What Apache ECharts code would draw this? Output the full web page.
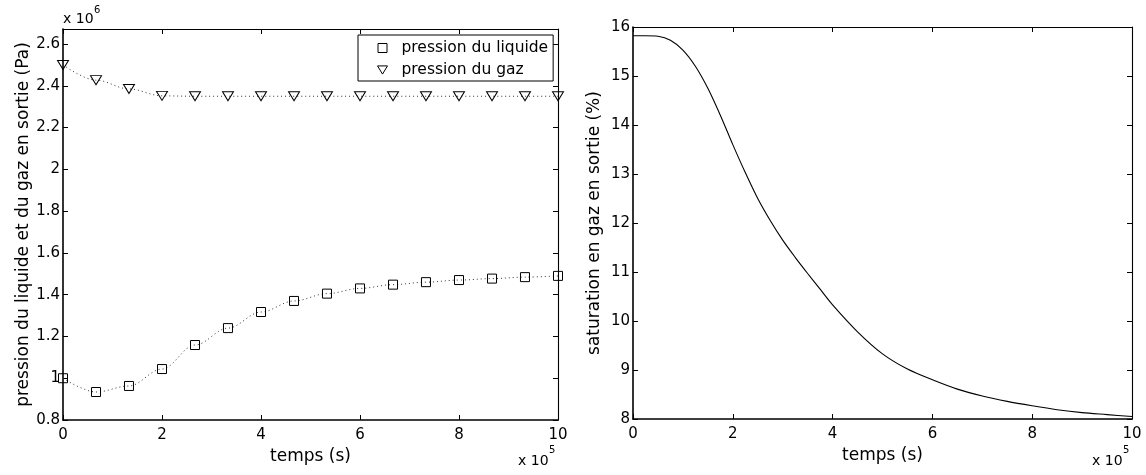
<!DOCTYPE html>
<html><head><meta charset="utf-8">
<script src="https://cdn.jsdelivr.net/npm/echarts@6/dist/echarts.min.js"></script>
<style>html,body{margin:0;padding:0;background:#fff}#c{width:1146px;height:475px}</style>
</head><body><div id="c"></div>
<script>
// Left panel: pressures (x in 1e5 s, y in 1e6 Pa)
const tempsPoints = [0, 0.667, 1.333, 2, 2.667, 3.333, 4, 4.667, 5.333, 6, 6.667, 7.333, 8, 8.667, 9.333, 10];
const pressionLiquide = [1.0, 0.934, 0.963, 1.044, 1.159, 1.24, 1.317, 1.37, 1.405, 1.43, 1.448, 1.46, 1.47, 1.477, 1.484, 1.49];
const pressionGaz = [2.5, 2.427, 2.385, 2.352, 2.35, 2.35, 2.35, 2.35, 2.35, 2.35, 2.35, 2.35, 2.35, 2.35, 2.35, 2.35];
// Right panel: gas saturation (%)
const tempsSat = [0, 0.25, 0.5, 0.75, 1, 1.25, 1.5, 1.75, 2, 2.25, 2.5, 2.75, 3, 3.25, 3.5, 3.75, 4, 4.5, 5, 5.5, 6, 6.5, 7, 7.5, 8, 8.5, 9, 9.5, 10];
const saturation = [15.82, 15.82, 15.81, 15.73, 15.53, 15.2, 14.75, 14.2, 13.6, 13.03, 12.5, 12.05, 11.65, 11.3, 10.97, 10.65, 10.33, 9.78, 9.33, 9.02, 8.8, 8.61, 8.47, 8.36, 8.27, 8.19, 8.13, 8.09, 8.05];
const seriesNames = ['pression du liquide', 'pression du gaz'];
const xName = 'temps (s)';
const yNameLeft = 'pression du liquide et du gaz en sortie (Pa)';
const yNameRight = 'saturation en gaz en sortie (%)';

const FONT = 'DejaVu Sans';
const chart = echarts.init(document.getElementById('c'), null, {renderer: 'canvas'});

function xAxisBase(grid, bottom) {
  return {
    type: 'value', gridIndex: grid, min: 0, max: 10, interval: 2,
    position: bottom ? 'bottom' : 'top', show: true,
    axisLine: {show: true, onZero: false, lineStyle: {color: '#000', width: bottom ? 1.6 : 1.1}},
    axisTick: {show: true, inside: true, length: 5, lineStyle: {color: '#000', width: 1}},
    axisLabel: {show: bottom, color: '#000', fontSize: 15, fontFamily: FONT, margin: 8},
    splitLine: {show: false},
    name: bottom ? xName : '', nameLocation: 'middle', nameGap: 15,
    nameTextStyle: {color: '#000', fontSize: 17, fontFamily: FONT}
  };
}
function yAxisBase(grid, left, min, max, interval, name, gap, fmt) {
  return {
    type: 'value', gridIndex: grid, min: min, max: max, interval: interval,
    position: left ? 'left' : 'right', show: true,
    axisLine: {show: true, onZero: false, lineStyle: {color: '#000', width: left ? 1.6 : 1.1}},
    axisTick: {show: true, inside: true, length: 5, lineStyle: {color: '#000', width: 1}},
    axisLabel: {show: left, color: '#000', fontSize: 15, fontFamily: FONT, margin: 3, formatter: fmt},
    splitLine: {show: false},
    name: left ? name : '', nameLocation: 'middle', nameGap: gap,
    nameTextStyle: {color: '#000', fontSize: 17, fontFamily: FONT}
  };
}
const fmtLeft = v => (Math.abs(v * 5 - Math.round(v * 5)) < 1e-6) ? String(+v.toFixed(1)) : '';
const fmtRight = v => (Math.abs(v - Math.round(v)) < 1e-6) ? String(Math.round(v)) : '';

const option = {
  animation: false,
  backgroundColor: '#fff',
  grid: [
    {left: 63, top: 29, width: 495, height: 391},
    {left: 633, top: 27, width: 499, height: 392}
  ],
  xAxis: [xAxisBase(0, true), xAxisBase(0, false), xAxisBase(1, true), xAxisBase(1, false)],
  yAxis: [
    yAxisBase(0, true, 0.8, 2.672, 0.2, yNameLeft, 31, fmtLeft),
    yAxisBase(0, false, 0.8, 2.672, 0.2, '', 0, fmtLeft),
    yAxisBase(1, true, 8, 16, 1, yNameRight, 30, fmtRight),
    yAxisBase(1, false, 8, 16, 1, '', 0, fmtRight)
  ],
  legend: {
    show: true, orient: 'vertical', left: 358, top: 35,
    padding: [5, 5, 3, 19],
    itemGap: 6, itemWidth: 10, itemHeight: 9,
    borderColor: '#000', borderWidth: 1, backgroundColor: '#fff',
    textStyle: {color: '#000', fontSize: 15.5, fontFamily: FONT, lineHeight: 16, padding: [0, 0, 0, 9]},
    itemStyle: {color: 'rgba(0,0,0,0)', borderColor: '#000', borderWidth: 1},
    selectedMode: false,
    data: [
      {name: seriesNames[0], icon: 'path://M0,0L9,0L9,9L0,9Z'},
      {name: seriesNames[1], icon: 'path://M0,0L11,0L5.5,9Z'}
    ]
  },
  graphic: [
    {type: 'text', left: 63, top: 12, style: {text: 'x 10', font: '14px "DejaVu Sans"', fill: '#000'}},
    {type: 'text', left: 94, top: 5, style: {text: '6', font: '10px "DejaVu Sans"', fill: '#000'}},
    {type: 'text', left: 518, top: 454, style: {text: 'x 10', font: '14px "DejaVu Sans"', fill: '#000'}},
    {type: 'text', left: 549, top: 445, style: {text: '5', font: '10px "DejaVu Sans"', fill: '#000'}},
    {type: 'text', left: 1092, top: 454, style: {text: 'x 10', font: '14px "DejaVu Sans"', fill: '#000'}},
    {type: 'text', left: 1123, top: 445, style: {text: '5', font: '10px "DejaVu Sans"', fill: '#000'}}
  ],
  series: [
    {
      name: seriesNames[0], type: 'line', xAxisIndex: 0, yAxisIndex: 0,
      data: tempsPoints.map((t, i) => [t, pressionLiquide[i]]),
      smooth: 0.35, smoothMonotone: 'x',
      symbol: 'rect', symbolSize: 9, showSymbol: true, showAllSymbol: true,
      itemStyle: {color: 'rgba(0,0,0,0)', borderColor: '#000', borderWidth: 1},
      lineStyle: {color: '#333', width: 1, type: [1, 3]},
      emphasis: {disabled: true}, z: 3
    },
    {
      name: seriesNames[1], type: 'line', xAxisIndex: 0, yAxisIndex: 0,
      data: tempsPoints.map((t, i) => [t, pressionGaz[i]]),
      smooth: 0.35, smoothMonotone: 'x',
      symbol: 'path://M0,0L12,0L6,10Z', symbolSize: [11, 9], showSymbol: true, showAllSymbol: true,
      itemStyle: {color: 'rgba(0,0,0,0)', borderColor: '#000', borderWidth: 1},
      lineStyle: {color: '#333', width: 1, type: [1, 3]},
      emphasis: {disabled: true}, z: 3
    },
    {
      name: 'saturation', type: 'line', xAxisIndex: 2, yAxisIndex: 2,
      data: tempsSat.map((t, i) => [t, saturation[i]]),
      smooth: 0.3, showSymbol: false, symbol: 'none',
      lineStyle: {color: '#000', width: 1.1},
      emphasis: {disabled: true}
    },
    // empty series so the mirrored top/right axes (box and ticks) are drawn
    {type: 'line', xAxisIndex: 1, yAxisIndex: 1, data: [], silent: true, symbol: 'none'},
    {type: 'line', xAxisIndex: 3, yAxisIndex: 3, data: [], silent: true, symbol: 'none'}
  ]
};
chart.setOption(option);
</script>
</body></html>
